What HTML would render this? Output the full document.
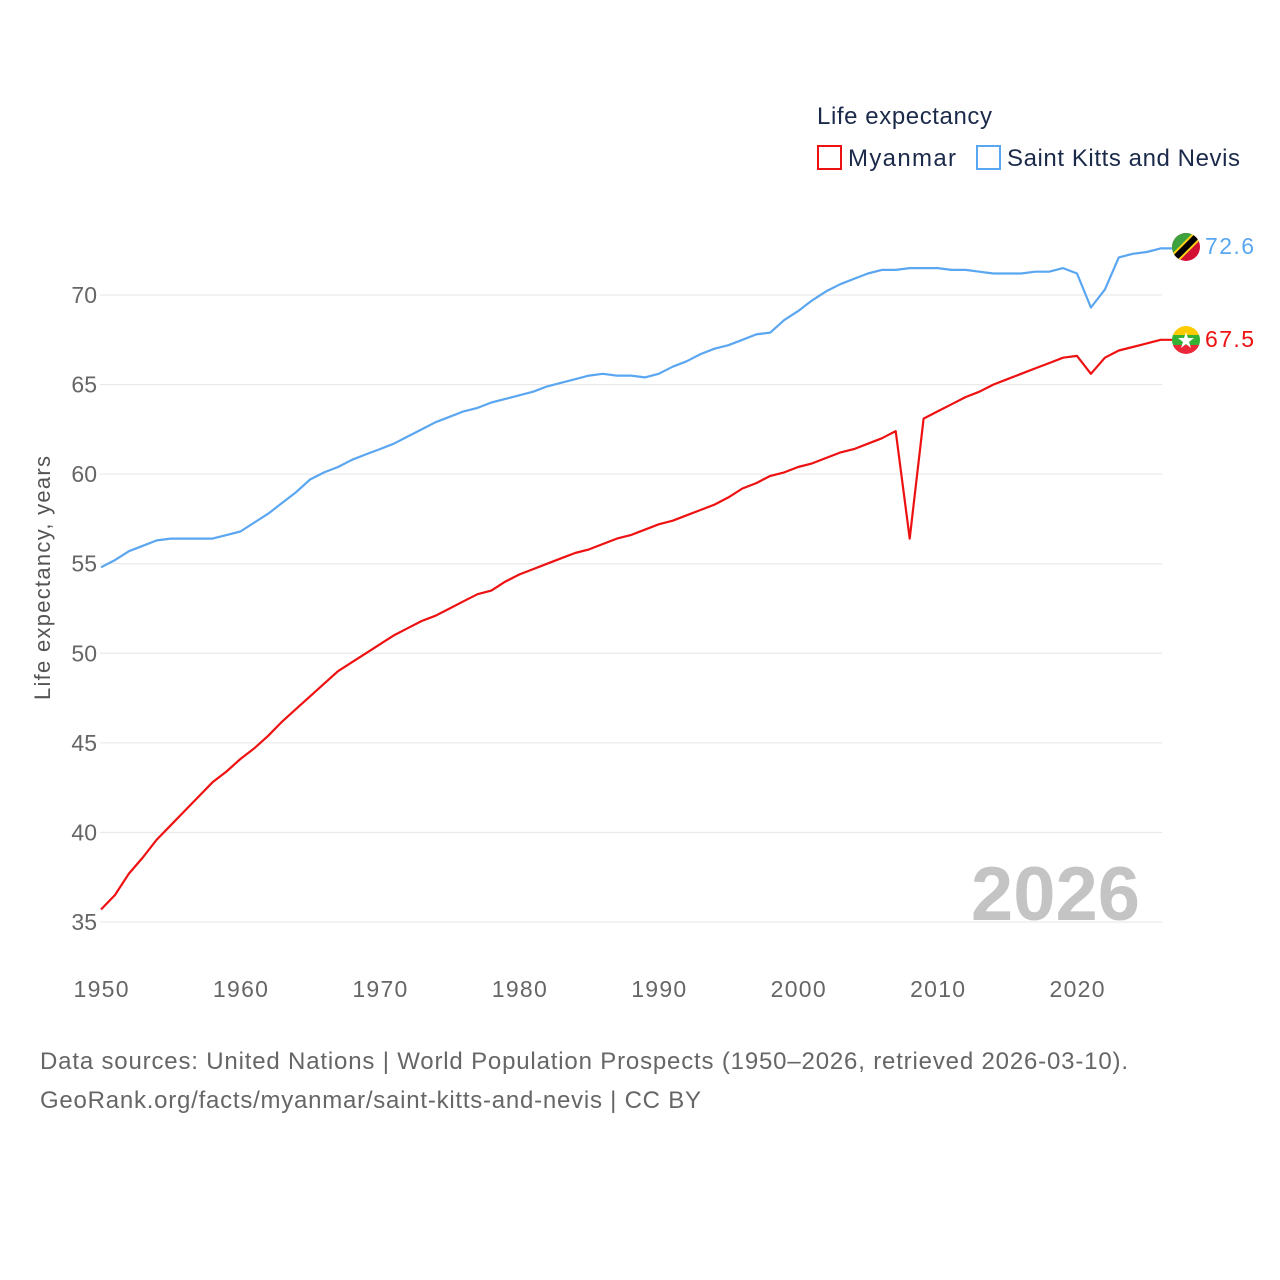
<!DOCTYPE html>
<html><head><meta charset="utf-8"><style>
html,body{margin:0;padding:0;background:#fff}
svg{display:block;font-family:"Liberation Sans",sans-serif}
</style></head><body>
<svg width="1280" height="1280" viewBox="0 0 1280 1280">
<g id="grid"></g>
<g id="yticks"></g>
<g id="xticks"></g>
<text x="50" y="578" transform="rotate(-90 50 578)" text-anchor="middle" font-size="22" fill="#555" textLength="244">Life expectancy, years</text>
<text x="1140" y="920" text-anchor="end" font-size="76" font-weight="bold" fill="#c4c4c4">2026</text>
<g id="series"></g>
<g>
<text x="817" y="124" font-size="24" fill="#1b2a4a" textLength="175">Life expectancy</text>
<g><rect x="818" y="146" width="23" height="23" fill="none" stroke="#ee1111" stroke-width="2"/><text x="848" y="166" font-size="24" fill="#1b2a4a" textLength="108">Myanmar</text></g>
<g><rect x="977" y="146" width="23" height="23" fill="none" stroke="#5aa6f0" stroke-width="2"/><text x="1007" y="166" font-size="24" fill="#1b2a4a" textLength="233">Saint Kitts and Nevis</text></g>
</g>
<g>
<text x="40" y="1069" font-size="24" fill="#666" textLength="1088">Data sources: United Nations | World Population Prospects (1950–2026, retrieved 2026-03-10).</text>
<text x="40" y="1108" font-size="24" fill="#666" textLength="661">GeoRank.org/facts/myanmar/saint-kitts-and-nevis | CC BY</text>
</g>
<defs>
<clipPath id="c1"><circle cx="1186" cy="247" r="14"/></clipPath>
<clipPath id="c2"><circle cx="1186" cy="340" r="14"/></clipPath>
</defs>
<g clip-path="url(#c1)">
<rect x="1170" y="231" width="32" height="32" fill="#d21034"/>
<polygon points="1170,231 1202,231 1170,263" fill="#3da23d"/>
<line x1="1170" y1="263" x2="1202" y2="231" stroke="#fcd116" stroke-width="10"/>
<line x1="1170" y1="263" x2="1202" y2="231" stroke="#000" stroke-width="6"/>
</g>
<g clip-path="url(#c2)">
<rect x="1170" y="324" width="32" height="11" fill="#fecb00"/>
<rect x="1170" y="335" width="32" height="10" fill="#34b233"/>
<rect x="1170" y="345" width="32" height="11" fill="#ea2839"/>
<polygon points="1186,332 1188,338 1194,338 1189,342 1191,348 1186,344 1181,348 1183,342 1178,338 1184,338" fill="#fff"/>
</g>
<text x="1205" y="254" font-size="23" fill="#5aa6f0" textLength="49">72.6</text>
<text x="1205" y="347" font-size="23" fill="#ee1111" textLength="49">67.5</text>
</svg>
<script>
const years=[];for(let y=1950;y<=2026;y++)years.push(y);
const yTicks=[35,40,45,50,55,60,65,70];
const xTicks=[1950,1960,1970,1980,1990,2000,2010,2020];
const myanmar=[35.7,36.5,37.7,38.6,39.6,40.4,41.2,42.0,42.8,43.4,44.1,44.7,45.4,46.2,46.9,47.6,48.3,49.0,49.5,50.0,50.5,51.0,51.4,51.8,52.1,52.5,52.9,53.3,53.5,54.0,54.4,54.7,55.0,55.3,55.6,55.8,56.1,56.4,56.6,56.9,57.2,57.4,57.7,58.0,58.3,58.7,59.2,59.5,59.9,60.1,60.4,60.6,60.9,61.2,61.4,61.7,62.0,62.4,56.4,63.1,63.5,63.9,64.3,64.6,65.0,65.3,65.6,65.9,66.2,66.5,66.6,65.6,66.5,66.9,67.1,67.3,67.5];
const skn=[54.8,55.2,55.7,56.0,56.3,56.4,56.4,56.4,56.4,56.6,56.8,57.3,57.8,58.4,59.0,59.7,60.1,60.4,60.8,61.1,61.4,61.7,62.1,62.5,62.9,63.2,63.5,63.7,64.0,64.2,64.4,64.6,64.9,65.1,65.3,65.5,65.6,65.5,65.5,65.4,65.6,66.0,66.3,66.7,67.0,67.2,67.5,67.8,67.9,68.6,69.1,69.7,70.2,70.6,70.9,71.2,71.4,71.4,71.5,71.5,71.5,71.4,71.4,71.3,71.2,71.2,71.2,71.3,71.3,71.5,71.2,69.3,70.3,72.1,72.3,72.4,72.6];
const X=y=>101+(y-1950)*(976/70);
const Y=v=>295+(70-v)*(627/35);
const NS='http://www.w3.org/2000/svg';
function mk(t,a,p){const e=document.createElementNS(NS,t);for(const k in a)e.setAttribute(k,a[k]);p.appendChild(e);return e;}
const grid=document.getElementById('grid'),yt=document.getElementById('yticks'),xt=document.getElementById('xticks'),ser=document.getElementById('series');
yTicks.forEach(v=>{
 const l=mk('line',{x1:100,x2:1162,y1:Y(v),y2:Y(v),stroke:'#e6e6e6','stroke-width':1},grid);
 
 
 const t=mk('text',{x:97,y:Y(v)+8,'text-anchor':'end','font-size':23,fill:'#666'},yt);t.textContent=v;
 
 
});
xTicks.forEach(v=>{
 const t=mk('text',{x:X(v),y:997,'text-anchor':'middle','font-size':23,fill:'#666',textLength:55},xt);t.textContent=v;
 
 
});
function line(vals,color,name){
 let d=vals.map((v,i)=>(i?'L':'M')+X(years[i]).toFixed(1)+','+Y(v).toFixed(1)).join(' ');
 d+=' L1172,'+Y(vals[vals.length-1]).toFixed(1);
 const p=mk('path',{d:d,fill:'none',stroke:color,'stroke-width':2.2,'stroke-linejoin':'round'},ser);
 
 
}
line(skn,'#5aa6f0','line-saint-kitts-and-nevis');
line(myanmar,'#ee1111','line-myanmar');
</script>
</body></html>
